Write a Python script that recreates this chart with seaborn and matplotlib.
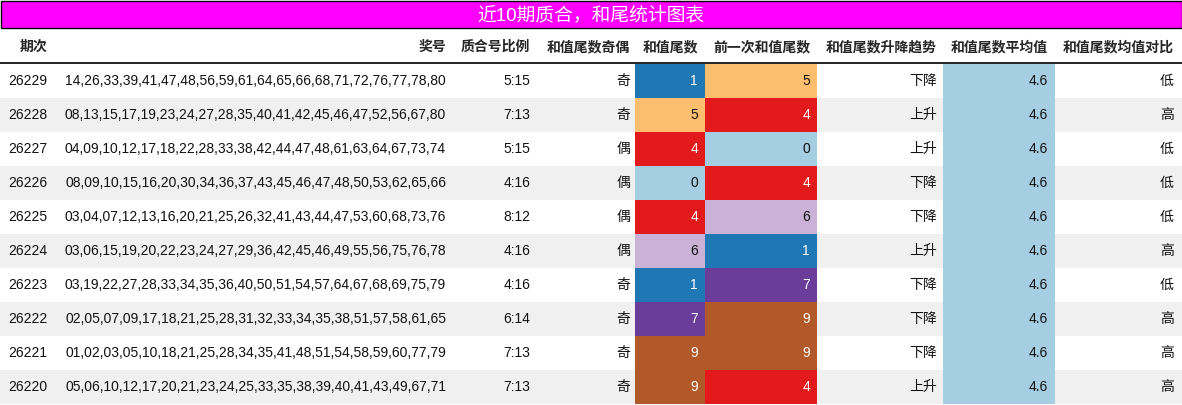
import matplotlib
matplotlib.use("Agg")
import matplotlib.pyplot as plt
import seaborn as sns
from matplotlib.patches import Rectangle

sns.set_theme(style="white")
plt.rcParams['font.family'] = ['Liberation Sans', 'Noto Sans CJK SC', 'DejaVu Sans']

title = "近10期质合，和尾统计图表"
headers = ["期次", "奖号", "质合号比例", "和值尾数奇偶", "和值尾数", "前一次和值尾数",
           "和值尾数升降趋势", "和值尾数平均值", "和值尾数均值对比"]
issues = ["26229", "26228", "26227", "26226", "26225", "26224", "26223", "26222", "26221", "26220"]
numbers = [
    "14,26,33,39,41,47,48,56,59,61,64,65,66,68,71,72,76,77,78,80",
    "08,13,15,17,19,23,24,27,28,35,40,41,42,45,46,47,52,56,67,80",
    "04,09,10,12,17,18,22,28,33,38,42,44,47,48,61,63,64,67,73,74",
    "08,09,10,15,16,20,30,34,36,37,43,45,46,47,48,50,53,62,65,66",
    "03,04,07,12,13,16,20,21,25,26,32,41,43,44,47,53,60,68,73,76",
    "03,06,15,19,20,22,23,24,27,29,36,42,45,46,49,55,56,75,76,78",
    "03,19,22,27,28,33,34,35,36,40,50,51,54,57,64,67,68,69,75,79",
    "02,05,07,09,17,18,21,25,28,31,32,33,34,35,38,51,57,58,61,65",
    "01,02,03,05,10,18,21,25,28,34,35,41,48,51,54,58,59,60,77,79",
    "05,06,10,12,17,20,21,23,24,25,33,35,38,39,40,41,43,49,67,71",
]
ratios = ["5:15", "7:13", "5:15", "4:16", "8:12", "4:16", "4:16", "6:14", "7:13", "7:13"]
parity = ["奇", "奇", "偶", "偶", "偶", "偶", "奇", "奇", "奇", "奇"]
tails = [1, 5, 4, 0, 4, 6, 1, 7, 9, 9]
prev_tails = [5, 4, 0, 4, 6, 1, 7, 9, 9, 4]
trend = ["下降", "上升", "上升", "下降", "下降", "上升", "下降", "下降", "下降", "上升"]
avg = [4.6] * 10
compare = ["低", "高", "低", "低", "低", "高", "低", "高", "高", "高"]

pal = sns.color_palette("Paired").as_hex()
tail_color = {1: pal[1], 5: pal[6], 4: pal[5], 0: pal[0], 6: pal[8], 7: pal[9], 9: pal[11]}
dark = {1, 4, 7, 9}

fig = plt.figure(figsize=(11.82, 4.05), dpi=100)
ax = fig.add_axes([0, 0, 1, 1])
ax.set_xlim(0, 1182)
ax.set_ylim(405, 0)
ax.axis("off")

# title bar
ax.add_patch(Rectangle((0.5, 0.5), 1181, 27, facecolor="#ff00ff", edgecolor="black", lw=1))
ax.text(591, 15, title, color="white", fontsize=13.5, ha="center", va="center")

# header
hx = [20, 446, 530, 630, 698, 810, 937, 1048, 1174]
for i, (h, x) in enumerate(zip(headers, hx)):
    ax.text(x, 47, h, ha="left" if i == 0 else "right", va="center",
            fontsize=10, fontweight="bold")
ax.plot([0, 1182], [63, 63], color="black", lw=1.2)

row_h = 34
y0 = 64
for r in range(len(issues)):
    top = y0 + r * row_h
    cy = top + row_h / 2
    if r % 2 == 1:
        ax.add_patch(Rectangle((0, top), 1182, row_h, facecolor="#f0f0f0", lw=0))
    ax.add_patch(Rectangle((635, top), 70, row_h, facecolor=tail_color[tails[r]], lw=0))
    ax.add_patch(Rectangle((705, top), 112, row_h, facecolor=tail_color[prev_tails[r]], lw=0))
    ax.add_patch(Rectangle((943, top), 112, row_h, facecolor=pal[0], lw=0))
    kw = dict(va="center", fontsize=10, color="#111111")
    ax.text(8, cy, issues[r], ha="left", **kw)
    ax.text(446, cy, numbers[r], ha="right", **kw)
    ax.text(530, cy, ratios[r], ha="right", **kw)
    ax.text(630, cy, parity[r], ha="right", **kw)
    ax.text(698, cy, str(tails[r]), ha="right", va="center", fontsize=10,
            color="white" if tails[r] in dark else "#111111")
    ax.text(810, cy, str(prev_tails[r]), ha="right", va="center", fontsize=10,
            color="white" if prev_tails[r] in dark else "#111111")
    ax.text(937, cy, trend[r], ha="right", **kw)
    ax.text(1048, cy, f"{avg[r]:.1f}", ha="right", **kw)
    ax.text(1174, cy, compare[r], ha="right", **kw)

fig.savefig("out.png", dpi=100)
